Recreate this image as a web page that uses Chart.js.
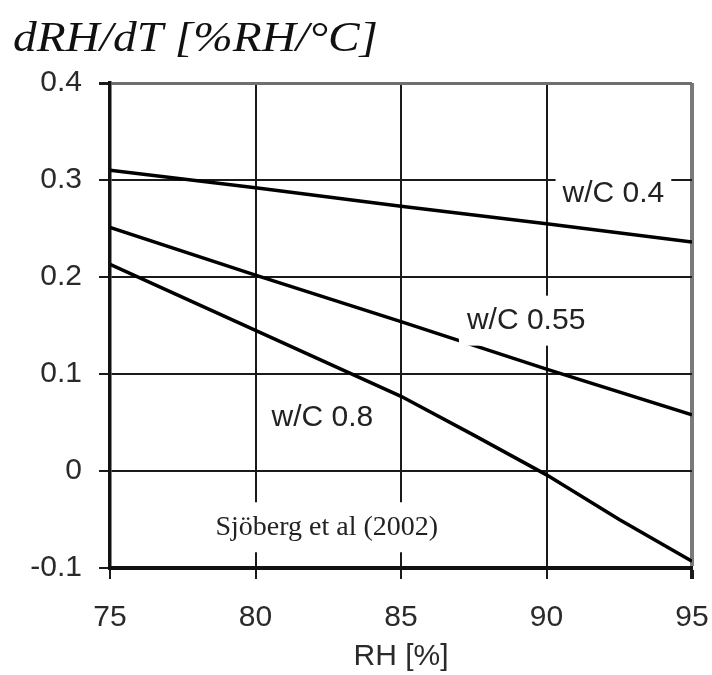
<!DOCTYPE html>
<html>
<head>
<meta charset="utf-8">
<title>dRH/dT vs RH</title>
<script src="https://cdn.jsdelivr.net/npm/chart.js@4.4.1/dist/chart.umd.min.js"></script>
<style>
  html, body { margin: 0; padding: 0; background: #fff; }
  canvas { display: block; }
</style>
</head>
<body>
<canvas id="dRHChart" width="712" height="675"></canvas>
<script>
// values (RH in %, dRH/dT in %RH/°C)
const rhCoarse = [75, 80, 85, 90, 95];
const rhFine = [75, 77.5, 80, 82.5, 85, 87.5, 90, 92.5, 95];
const wc040 = [0.310, 0.292, 0.273, 0.255, 0.236];
const wc055 = [0.251, 0.202, 0.154, 0.105, 0.058];
const wc080 = [0.213, 0.179, 0.145, 0.111, 0.077, 0.037, -0.004, -0.050, -0.093];
const seriesNames = ['w/C 0.4', 'w/C 0.55', 'w/C 0.8'];
const xTicks = [75, 80, 85, 90, 95];
const yTicks = [-0.1, 0, 0.1, 0.2, 0.3, 0.4];
// where the curve labels sit, in data units [RH, dRH/dT]
const labelAt = [[92.3, 0.286], [89.3, 0.155], [82.3, 0.055]];
const sourceText = 'Sjöberg et al (2002)';
const sourceAt = [82.45, -0.058];
const titleText = 'dRH/dT [%RH/°C]';
const xTitle = 'RH [%]';

const toPoints = (xs, ys) => xs.map((v, i) => ({ x: v, y: ys[i] }));

function boxedText(ctx, text, cx, cy, font, padX, padY) {
    ctx.font = font;
    const m = ctx.measureText(text);
    const w = m.width;
    const h = m.actualBoundingBoxAscent + m.actualBoundingBoxDescent;
    ctx.fillStyle = '#fff';
    ctx.fillRect(cx - w / 2 - padX, cy - h / 2 - padY, w + padX * 2, h + padY * 2);
    ctx.fillStyle = '#222';
    ctx.textAlign = 'center';
    ctx.textBaseline = 'middle';
    ctx.fillText(text, cx, cy);
}

const annotatePlugin = {
    id: 'annotate',
    afterDatasetsDraw(chart) {
        const { ctx, scales: { x, y } } = chart;
        ctx.save();
        const pads = [[7, 10], [8, 14], [6, 3]];
        labelAt.forEach((p, i) => {
            boxedText(ctx, seriesNames[i], x.getPixelForValue(p[0]), y.getPixelForValue(p[1]),
                '30px "Liberation Sans", Arial, sans-serif', pads[i][0], pads[i][1]);
        });
        boxedText(ctx, sourceText, x.getPixelForValue(sourceAt[0]), y.getPixelForValue(sourceAt[1]),
            '28px "Liberation Serif", "Times New Roman", serif', 6, 12);
        ctx.restore();
    },
    afterDraw(chart) {
        const ctx = chart.ctx;
        ctx.save();
        ctx.font = 'italic 42px "Liberation Serif", "Times New Roman", serif';
        const w = ctx.measureText(titleText).width;
        ctx.translate(13, 51);
        ctx.scale(365 / w, 1);
        ctx.fillStyle = '#111';
        ctx.textAlign = 'left';
        ctx.textBaseline = 'alphabetic';
        ctx.fillText(titleText, 0, 0);
        ctx.restore();
    }
};

const tickFont = { family: '"Liberation Sans", Arial, sans-serif', size: 30 };

new Chart(document.getElementById('dRHChart'), {
    type: 'line',
    data: {
        datasets: [
            { label: seriesNames[0], data: toPoints(rhCoarse, wc040) },
            { label: seriesNames[1], data: toPoints(rhCoarse, wc055) },
            { label: seriesNames[2], data: toPoints(rhFine, wc080) }
        ].map(ds => Object.assign(ds, {
            borderColor: '#000', borderWidth: 3.5, pointRadius: 0, tension: 0, fill: false
        }))
    },
    options: {
        responsive: false,
        animation: false,
        layout: { padding: { top: 83, right: 20, left: 0, bottom: 0 } },
        plugins: { legend: { display: false }, tooltip: { enabled: false } },
        scales: {
            x: {
                type: 'linear', min: 75, max: 95,
                afterBuildTicks: s => { s.ticks = xTicks.map(v => ({ value: v })); },
                afterFit: s => { s.height = 107; s.paddingLeft = 0; s.paddingRight = 0; },
                grid: {
                    color: c => c.tick && c.tick.value === 95 ? '#7a7a7a' : '#1a1a1a',
                    lineWidth: c => c.tick && c.tick.value === 95 ? 4 : 2,
                    tickColor: '#1a1a1a', tickLength: 11
                },
                border: { color: '#111', width: 4 },
                ticks: { font: tickFont, color: '#2a2a2a', padding: 21, maxRotation: 0 },
                title: { display: true, text: xTitle, font: tickFont, color: '#2a2a2a', padding: 0 }
            },
            y: {
                min: -0.1, max: 0.4,
                afterBuildTicks: s => { s.ticks = yTicks.map(v => ({ value: v })); },
                afterFit: s => { s.width = 110; s.paddingTop = 0; s.paddingBottom = 0; },
                grid: {
                    color: c => c.tick && c.tick.value === 0.4 ? '#6f6f6f' : '#1a1a1a',
                    lineWidth: c => c.tick && c.tick.value === 0.4 ? 3 : 2,
                    tickColor: '#1a1a1a', tickLength: 11
                },
                border: { color: '#111', width: 3.5 },
                ticks: {
                    font: tickFont, color: '#2a2a2a', padding: 17,
                    callback: v => String(Math.round(v * 10) / 10)
                }
            }
        }
    },
    plugins: [annotatePlugin]
});
</script>
</body>
</html>
